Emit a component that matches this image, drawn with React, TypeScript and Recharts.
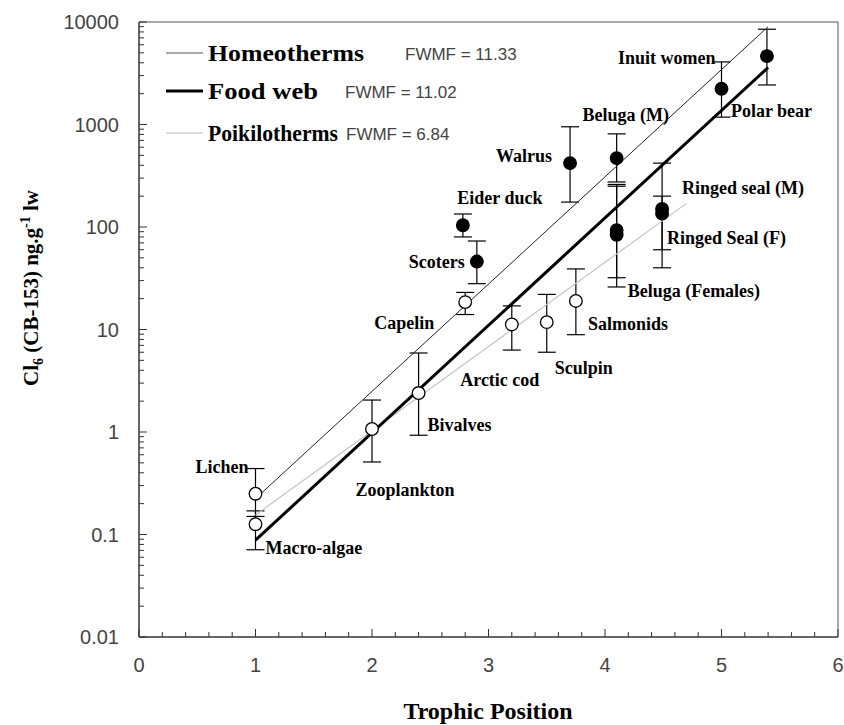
import React from 'react';
import { ScatterChart, Scatter, XAxis, YAxis, ErrorBar, ReferenceLine, Legend } from 'recharts';

// poikilotherms (open circles)
const poikiloNames = ['Lichen', 'Macro-algae', 'Zooplankton', 'Bivalves', 'Capelin', 'Arctic cod', 'Sculpin', 'Salmonids'];
const poikiloTrophic = [1, 1, 2, 2.4, 2.8, 3.2, 3.5, 3.75];
const poikiloConc = [0.25, 0.126, 1.07, 2.4, 18.5, 11.2, 11.8, 19];
const poikiloLow = [0.15, 0.071, 0.51, 0.93, 14, 6.3, 6, 8.9];
const poikiloHigh = [0.44, 0.17, 2.05, 5.9, 23, 17, 22, 39];

// homeotherms (filled circles)
const homeoNames = ['Eider duck', 'Scoters', 'Walrus', 'Beluga (M)', '', 'Beluga (Females)', 'Ringed seal (M)', 'Ringed Seal (F)', 'Inuit women', 'Polar bear'];
const homeoTrophic = [2.78, 2.9, 3.7, 4.1, 4.1, 4.1, 4.49, 4.49, 5.0, 5.39];
const homeoConc = [104, 46, 420, 470, 93, 84, 150, 135, 2230, 4650];
const homeoLow = [80, 28, 175, 275, 32, 26, 60, 40, 1180, 2430];
const homeoHigh = [134, 73, 950, 810, 250, 260, 420, 200, 4080, 8500];

// regression lines (end points)
const fitTrophic = [1, 5.4];
const homeoFit = [0.224, 9000];
const webFit = [0.088, 3600];
const poikiloFitTrophic = [1, 4.7];
const poikiloFit = [0.155, 170];

const legendNames = ['Homeotherms', 'Food web', 'Poikilotherms'];
const legendFwmf = ['FWMF = 11.33', 'FWMF = 11.02', 'FWMF = 6.84'];

const xMajor = [0, 1, 2, 3, 4, 5, 6];
const xTickLabels = ['0', '1', '2', '3', '4', '5', '6'];
const yMajor = [0.01, 0.1, 1, 10, 100, 1000, 10000];
const yTickLabels = ['0.01', '0.1', '1', '10', '100', '1000', '10000'];

const xTicks: number[] = [];
for (let i = 0; i <= 30; i++) xTicks.push(Math.round(i * 2) / 10);
const yTicks: number[] = [];
for (let d = -2; d < 4; d++) for (let m = 1; m < 10; m++) yTicks.push(m * Math.pow(10, d));
yTicks.push(10000);

const build = (names: string[], xs: number[], ys: number[], lo: number[], hi: number[]) =>
  names.map((name, i) => ({ name, x: xs[i], y: ys[i], err: [ys[i] - lo[i], hi[i] - ys[i]] }));

const poikiloData = build(poikiloNames, poikiloTrophic, poikiloConc, poikiloLow, poikiloHigh);
const homeoData = build(homeoNames, homeoTrophic, homeoConc, homeoLow, homeoHigh);
const homeoLine = fitTrophic.map((x, i) => ({ x, y: homeoFit[i] }));
const webLine = fitTrophic.map((x, i) => ({ x, y: webFit[i] }));
const poikiloLine = poikiloFitTrophic.map((x, i) => ({ x, y: poikiloFit[i] }));

// label offsets from the marker centre: dx, dy, anchor
const labelPlacement: Record<string, [number, number, 'start' | 'middle' | 'end']> = {
  'Lichen': [-7, -27, 'end'],
  'Macro-algae': [10, 24, 'start'],
  'Zooplankton': [33, 61, 'middle'],
  'Bivalves': [9, 32, 'start'],
  'Capelin': [-31, 21, 'end'],
  'Arctic cod': [-12, 56, 'middle'],
  'Sculpin': [37, 46, 'middle'],
  'Salmonids': [12, 23, 'start'],
  'Eider duck': [37, -27, 'middle'],
  'Scoters': [-12, 0, 'end'],
  'Walrus': [-18, -7, 'end'],
  'Beluga (M)': [9, -43, 'middle'],
  'Beluga (Females)': [11, 56, 'start'],
  'Ringed seal (M)': [20, -21, 'start'],
  'Ringed Seal (F)': [5, 24, 'start'],
  'Inuit women': [-6, -31, 'end'],
  'Polar bear': [-36, 55, 'start'],
};

const serif = '"Liberation Serif", "Times New Roman", serif';
const sans = '"Liberation Sans", Arial, sans-serif';

const makeShape = (filled: boolean) => (props: any) => {
  const { cx, cy, payload } = props;
  const place = labelPlacement[payload.name];
  return (
    <g>
      <circle cx={cx} cy={cy} r={6.3} fill={filled ? '#000' : '#fff'} stroke="#000" strokeWidth={1.3} />
      {place && (
        <text x={cx + place[0]} y={cy + place[1]} dy={6} textAnchor={place[2]}
          fontFamily={serif} fontWeight="bold" fontSize={18} fill="#000">
          {payload.name}
        </text>
      )}
    </g>
  );
};

const noShape = () => <g />;

const isMajor = (list: number[], v: number) =>
  list.findIndex((m) => Math.abs(Math.log10(m) - Math.log10(v)) < 1e-6);

const tickText = { fontFamily: sans, fontSize: 20, fill: '#444' } as const;

const YTick = (props: any) => {
  const { x, y, payload } = props;
  const idx = isMajor(yMajor, payload.value);
  return (
    <g>
      <line x1={x} x2={x + (idx >= 0 ? 8 : 5)} y1={y} y2={y} stroke="#333" strokeWidth={1} />
      {idx >= 0 && (
        <text x={x - 20} y={y} dy={7} textAnchor="end" style={tickText}>
          {yTickLabels[idx]}
        </text>
      )}
    </g>
  );
};

const XTick = (props: any) => {
  const { x, y, payload } = props;
  const idx = xMajor.findIndex((m) => Math.abs(m - payload.value) < 1e-6);
  return (
    <g>
      <line x1={x} x2={x} y1={y} y2={y - (idx >= 0 ? 8 : 5)} stroke="#333" strokeWidth={1} />
      {idx >= 0 && (
        <text x={x} y={y + 35} textAnchor="middle" style={tickText}>
          {xTickLabels[idx]}
        </text>
      )}
    </g>
  );
};

const legendStroke = ['#555', '#000', '#bbb'];
const legendWidth = [1, 3, 1];
const legendRowY = [23, 61, 103];
const legendTextLen = [156, 110, 130];
const legendFwmfX = [245, 185, 186];

const LegendBox = () => (
  <svg width={400} height={120}>
    {legendNames.map((n, i) => (
      <g key={n}>
        <line x1={6} x2={43} y1={legendRowY[i]} y2={legendRowY[i]} stroke={legendStroke[i]} strokeWidth={legendWidth[i]} />
        <text x={48} y={legendRowY[i] + 8} fontFamily={serif} fontWeight="bold" fontSize={23}
          textLength={legendTextLen[i]} lengthAdjust="spacingAndGlyphs" fill="#000">{n}</text>
        <text x={legendFwmfX[i]} y={legendRowY[i] + 7} style={{ ...tickText, fontSize: 17 }}>{legendFwmf[i]}</text>
      </g>
    ))}
  </svg>
);

const YTitle = () => (
  <text transform="rotate(-90, 38, 288)" x={38} y={288} textAnchor="middle" fontFamily={serif} fontWeight="bold" fontSize={21} fill="#000">
    Cl<tspan dy={5} fontSize={14}>6</tspan><tspan dy={-5}> (CB-153) ng.g</tspan><tspan dy={-8} fontSize={14}>-1</tspan><tspan dy={8}> lw</tspan>
  </text>
);

const XTitle = () => (
  <text x={488} y={719} textAnchor="middle" fontFamily={serif} fontWeight="bold" fontSize={24} fill="#000">
    Trophic Position
  </text>
);

export default function App() {
  return (
    <div style={{ width: 844, height: 725, background: '#fff', position: 'relative' }}>
      <style>{'body{margin:0;background:#fff}'}</style>
      <ScatterChart width={844} height={725} margin={{ top: 22, right: 6, bottom: 0, left: 0 }}>
        <XAxis dataKey="x" type="number" domain={[0, 6]} ticks={xTicks} interval={0} height={88}
          tickSize={0} tickMargin={0} tickLine={false} tick={<XTick />}
          axisLine={{ stroke: '#333', strokeWidth: 1.5 }} allowDataOverflow label={{ content: () => <XTitle /> }} />
        <YAxis dataKey="y" type="number" scale="log" domain={[0.01, 10000]} ticks={yTicks} interval={0} width={139}
          tickSize={0} tickMargin={0} tickLine={false} tick={<YTick />}
          axisLine={{ stroke: '#333', strokeWidth: 1.5 }} allowDataOverflow label={{ content: () => <YTitle /> }} />
        <ReferenceLine y={10000} stroke="#555" strokeWidth={1} />
        <ReferenceLine x={6} stroke="#555" strokeWidth={1} />
        <Legend layout="horizontal" verticalAlign="middle" align="center" content={() => <LegendBox />}
          wrapperStyle={{ position: 'absolute', left: 160, top: 30, width: 400, height: 120 }} />
        <Scatter data={poikiloLine} line={{ stroke: '#c4c4c4', strokeWidth: 1.2 }} shape={noShape} isAnimationActive={false} legendType="none" />
        <Scatter data={homeoLine} line={{ stroke: '#222', strokeWidth: 1 }} shape={noShape} isAnimationActive={false} legendType="none" />
        <Scatter data={webLine} line={{ stroke: '#000', strokeWidth: 3 }} shape={noShape} isAnimationActive={false} legendType="none" />
        <Scatter data={poikiloData} shape={makeShape(false)} isAnimationActive={false} legendType="none">
          <ErrorBar dataKey="err" direction="y" width={9} stroke="#000" strokeWidth={1.2} />
        </Scatter>
        <Scatter data={homeoData} shape={makeShape(true)} isAnimationActive={false} legendType="none">
          <ErrorBar dataKey="err" direction="y" width={9} stroke="#000" strokeWidth={1.2} />
        </Scatter>
      </ScatterChart>
    </div>
  );
}
